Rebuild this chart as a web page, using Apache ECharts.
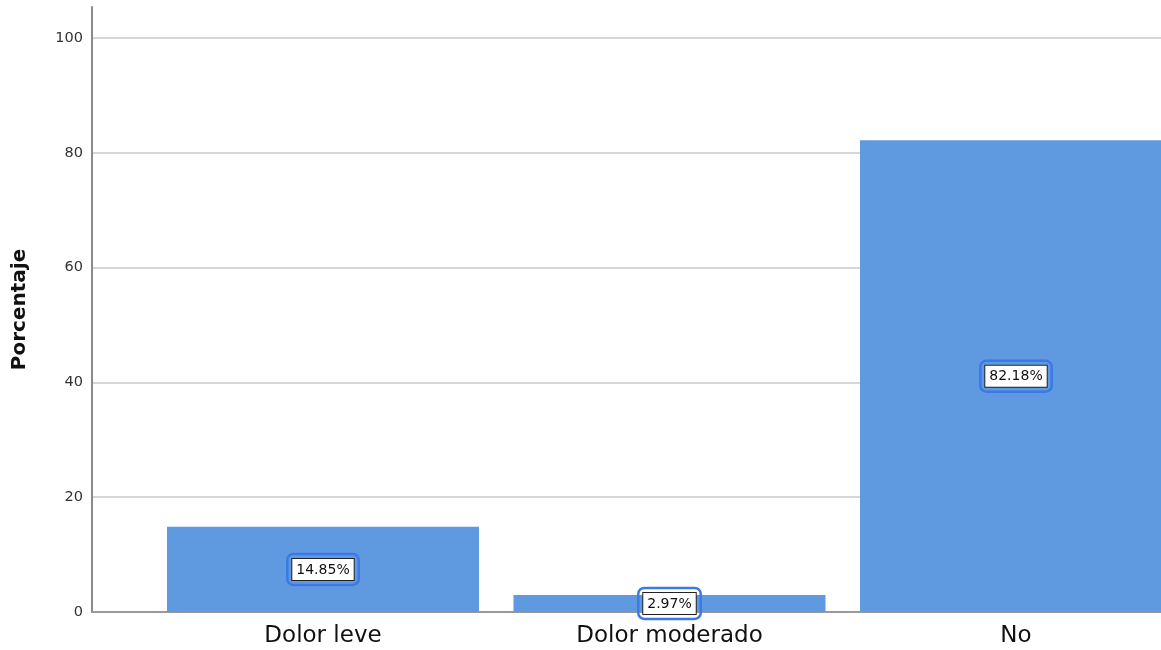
<!DOCTYPE html>
<html>
<head>
<meta charset="utf-8">
<script src="https://cdn.jsdelivr.net/npm/echarts@6/dist/echarts.min.js"></script>
<style>
html,body{margin:0;padding:0;background:#fff;}
#chart{width:1161px;height:650px;}
</style>
</head>
<body>
<div id="chart"></div>
<script>
const categories = ['Dolor leve', 'Dolor moderado', 'No'];
const percentages = [14.85, 2.97, 82.18];
const yTicks = [0, 20, 40, 60, 80, 100];
const yAxisTitle = 'Porcentaje';

const chart = echarts.init(document.getElementById('chart'));
const yMax = 105.4;
const font = 'DejaVu Sans';

chart.setOption({
  animation: false,
  grid: [
    { left: 92, right: 0, top: 7, bottom: 38, outerBoundsMode: 'none' },
    { left: 149.75, right: -28.25, top: 7, bottom: 38, outerBoundsMode: 'none' }
  ],
  xAxis: [
    { gridIndex: 0, type: 'value', min: 0, max: 1,
      axisLine: { show: true, lineStyle: { color: '#9a9a9a', width: 2 } },
      axisTick: { show: false }, axisLabel: { show: false }, splitLine: { show: false } },
    { gridIndex: 1, type: 'category', data: categories,
      axisLine: { show: false }, axisTick: { show: false },
      axisLabel: { fontFamily: font, fontSize: 23, color: '#111', margin: 13 } }
  ],
  yAxis: [
    { gridIndex: 0, type: 'value', min: 0, max: yMax, interval: 20,
      name: yAxisTitle, nameLocation: 'middle', nameGap: 62,
      nameTextStyle: { fontFamily: font, fontSize: 20, fontWeight: 'bold', color: '#111' },
      axisLine: { show: true, lineStyle: { color: '#8a8a8a', width: 2 } },
      axisTick: { show: false },
      axisLabel: { fontFamily: font, fontSize: 14.5, color: '#333', margin: 9,
        formatter: v => yTicks.includes(v) ? String(v) : '' },
      splitLine: { show: true, showMaxLine: false, lineStyle: { color: '#c8c8c8', width: 1.5 } } },
    { gridIndex: 1, type: 'value', min: 0, max: yMax, show: false, splitLine: { show: false } }
  ],
  series: [{
    type: 'bar',
    xAxisIndex: 1, yAxisIndex: 1,
    data: percentages,
    barWidth: 312,
    itemStyle: { color: '#5f9ae0' },
    label: {
      show: true,
      position: 'inside',
      formatter: p => '{b|' + p.value.toFixed(2) + '%}',
      borderColor: '#3d78e6',
      borderWidth: 2.5,
      borderRadius: 6,
      padding: 5,
      rich: {
        b: { fontFamily: font, fontSize: 14, color: '#111', backgroundColor: '#fff',
             borderColor: '#222', borderWidth: 1, padding: [4, 4, 3, 4] }
      }
    }
  }]
});
</script>
</body>
</html>
